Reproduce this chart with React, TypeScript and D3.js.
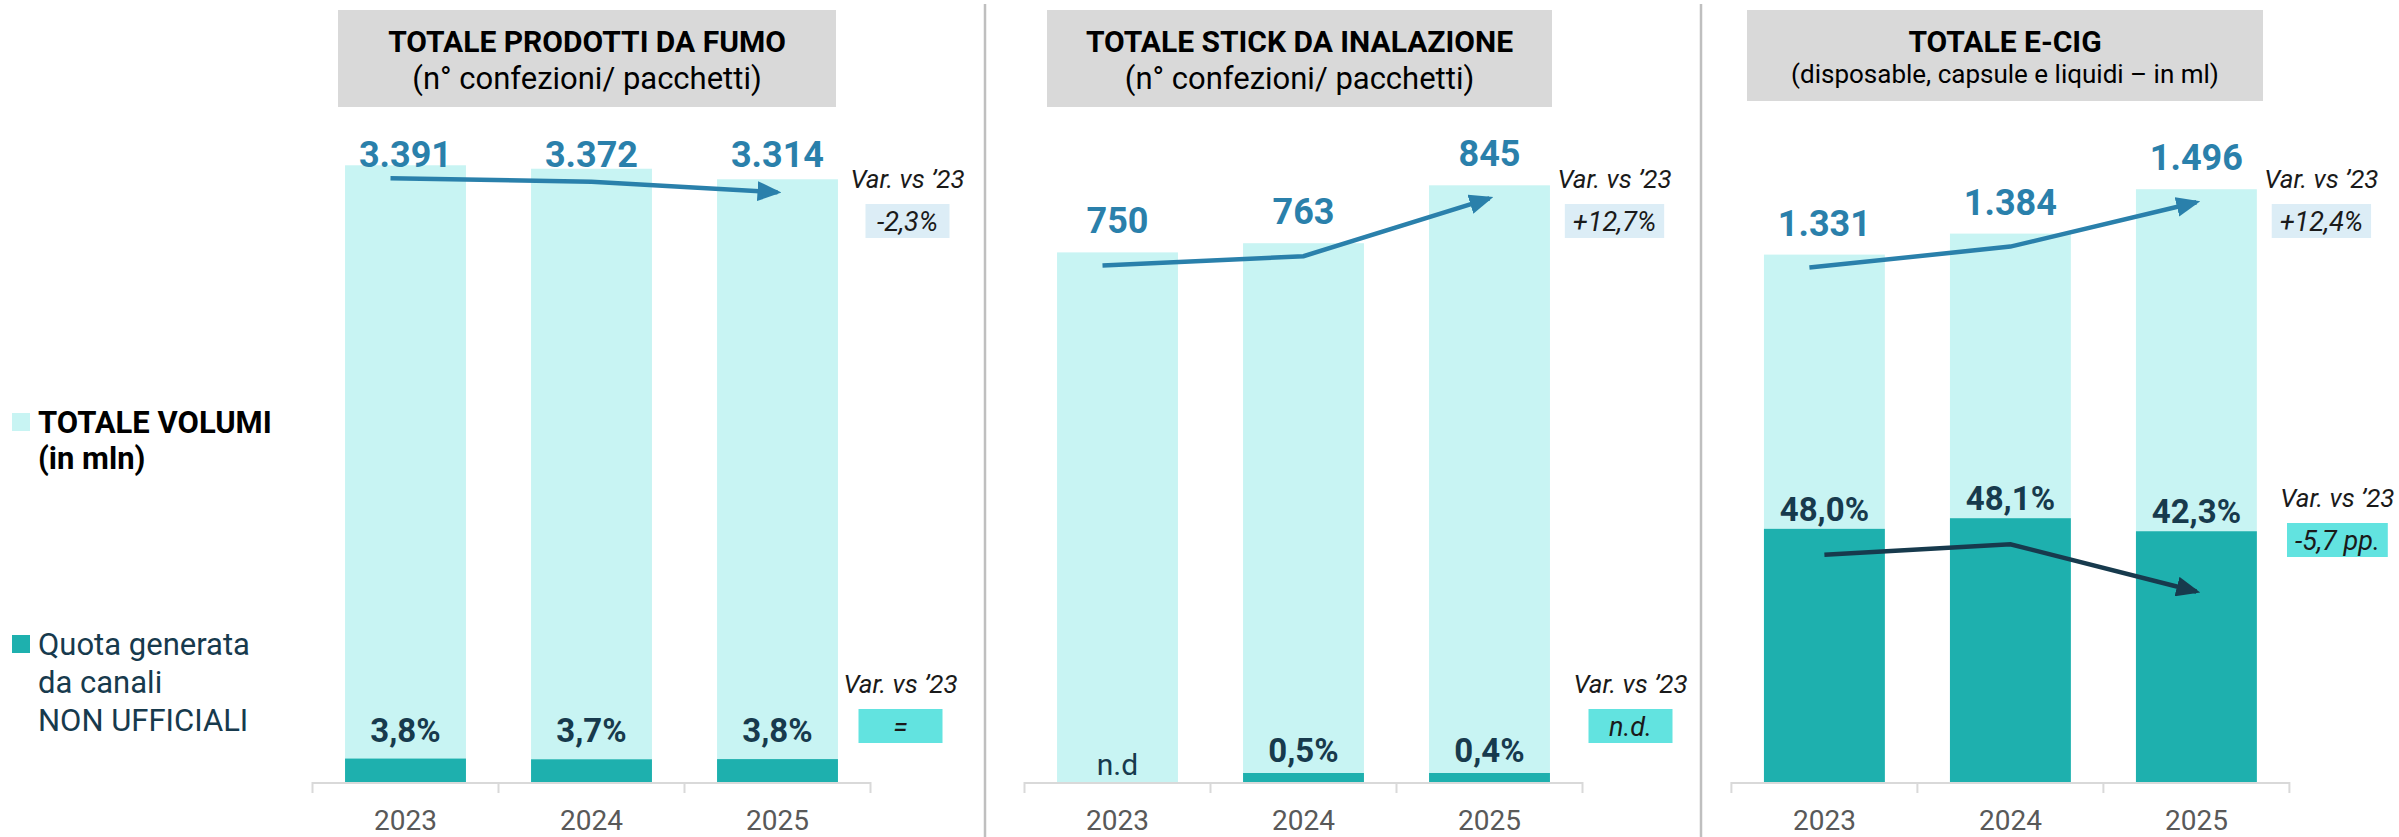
import * as d3 from "d3";
import { useEffect, useRef } from "react";

const years = ["2023", "2024", "2025"];

const panelTitles = ["TOTALE PRODOTTI DA FUMO", "TOTALE STICK DA INALAZIONE", "TOTALE E-CIG"];
const panelSubtitles = [
    "(n° confezioni/ pacchetti)",
    "(n° confezioni/ pacchetti)",
    "(disposable, capsule e liquidi – in ml)",
];

// volumi totali (in mln)
const fumoTotals = [3391, 3372, 3314];
const stickTotals = [750, 763, 845];
const ecigTotals = [1331, 1384, 1496];

// quota canali non ufficiali (%)
const fumoShare: (number | null)[] = [3.8, 3.7, 3.8];
const stickShare: (number | null)[] = [null, 0.5, 0.4];
const ecigShare: (number | null)[] = [48.0, 48.1, 42.3];

const varTotals = ["-2,3%", "+12,7%", "+12,4%"];
const varShares = ["=", "n.d.", "-5,7 pp."];

const W = 2399;
const H = 837;
const FONT = "Roboto, 'Noto Sans', sans-serif";

const LIGHT = "#c8f4f3";
const DARK = "#1eb0ae";
const BLUE = "#2a80ab";
const NAVY = "#173a4d";
const BOX_LIGHT = "#dcedf6";
const BOX_TURQ = "#62e3e0";

// layout per pannello
const layout = [
    { x0: 312.5, yMax: 3475, box: [338, 836, 107], fixedLabel: true, pctDy: -17, varTopDx: 37, varBot: { dx: 30, y: 693 } },
    { x0: 1024.5, yMax: 895, box: [1047, 1552, 107], fixedLabel: false, pctDy: -11, varTopDx: 32, varBot: { dx: 48, y: 693 } },
    { x0: 1731.4, yMax: 1595, box: [1747, 2263, 101], fixedLabel: false, pctDy: -8, varTopDx: 32, varBot: { dx: 48, y: 507 } },
];

const locale = d3.formatLocale({ decimal: ",", thousands: ".", grouping: [3], currency: ["€", ""] });
const fmtInt = locale.format(",d");
const fmtPct = locale.format(".1f");

export default function App() {
    const svgRef = useRef<SVGSVGElement | null>(null);

    useEffect(() => {
        const svg = d3.select(svgRef.current);
        svg.selectAll("*").remove();
        svg.attr("viewBox", `0 0 ${W} ${H}`);

        svg.append("rect").attr("width", W).attr("height", H).attr("fill", "#fff");

        const defs = svg.append("defs");
        [["arrBlue", BLUE], ["arrNavy", NAVY]].forEach(([id, c]) => {
            defs.append("marker")
                .attr("id", id)
                .attr("markerUnits", "userSpaceOnUse")
                .attr("viewBox", "0 0 24 20")
                .attr("markerWidth", 24)
                .attr("markerHeight", 20)
                .attr("refX", 20)
                .attr("refY", 10)
                .attr("orient", "auto")
                .append("path")
                .attr("d", "M0,0 L24,10 L0,20 Z")
                .attr("fill", c);
        });

        const baseY = 782;
        const plotH = 632;
        const totals = [fumoTotals, stickTotals, ecigTotals];
        const shares = [fumoShare, stickShare, ecigShare];

        // divisori
        [985, 1701].forEach((x) => {
            svg.append("line")
                .attr("x1", x).attr("x2", x)
                .attr("y1", 4).attr("y2", H)
                .attr("stroke", "#bfbfbf").attr("stroke-width", 2.5);
        });

        totals.forEach((vals, p) => {
            const L = layout[p];
            const g = svg.append("g");
            const x = d3.scaleBand()
                .domain(years)
                .range([L.x0, L.x0 + 558])
                .paddingInner(0.35)
                .paddingOuter(0.175);
            const y = d3.scaleLinear().domain([0, L.yMax]).range([baseY, baseY - plotH]);
            const cx = (d: string) => x(d)! + x.bandwidth() / 2;
            const axisEnd = L.x0 + 558;

            // box titolo
            const [bx0, bx1, by1] = L.box;
            g.append("rect")
                .attr("x", bx0).attr("y", 10)
                .attr("width", bx1 - bx0).attr("height", by1 - 10)
                .attr("fill", "#d9d9d9");
            const tcx = (bx0 + bx1) / 2;
            g.append("text")
                .attr("x", tcx).attr("y", 52)
                .attr("text-anchor", "middle")
                .attr("font-family", FONT).attr("font-weight", 700)
                .attr("font-size", 30).attr("fill", "#000")
                .text(panelTitles[p]);
            g.append("text")
                .attr("x", tcx).attr("y", p === 2 ? 83 : 89)
                .attr("text-anchor", "middle")
                .attr("font-family", FONT)
                .attr("font-size", p === 2 ? 26 : 31).attr("fill", "#000")
                .text(panelSubtitles[p]);

            // barre totali
            g.selectAll("rect.tot")
                .data(vals)
                .enter()
                .append("rect")
                .attr("class", "tot")
                .attr("x", (_, i) => x(years[i])!)
                .attr("width", x.bandwidth())
                .attr("y", (d) => y(d))
                .attr("height", (d) => baseY - y(d))
                .attr("fill", LIGHT);

            // barre quota non ufficiale (altezza minima per renderle visibili)
            const sh = shares[p];
            const darkTop = (i: number) => {
                const s = sh[i];
                if (s == null) return baseY;
                const h = Math.max(baseY - y((vals[i] * s) / 100), 9);
                return baseY - h;
            };
            sh.forEach((s, i) => {
                if (s == null) return;
                g.append("rect")
                    .attr("x", x(years[i])!)
                    .attr("width", x.bandwidth())
                    .attr("y", darkTop(i))
                    .attr("height", baseY - darkTop(i))
                    .attr("fill", DARK);
            });

            // asse
            g.append("line")
                .attr("x1", L.x0).attr("x2", axisEnd)
                .attr("y1", baseY + 1).attr("y2", baseY + 1)
                .attr("stroke", "#d9d9d9").attr("stroke-width", 2);
            const step = x.step();
            d3.range(4).forEach((k) => {
                const tx = L.x0 + k * step;
                g.append("line")
                    .attr("x1", tx).attr("x2", tx)
                    .attr("y1", baseY).attr("y2", baseY + 11)
                    .attr("stroke", "#d9d9d9").attr("stroke-width", 2);
            });
            years.forEach((yr) => {
                g.append("text")
                    .attr("x", cx(yr)).attr("y", 830)
                    .attr("text-anchor", "middle")
                    .attr("font-family", FONT).attr("font-size", 28)
                    .attr("fill", "#595959")
                    .text(yr);
            });

            // etichette valori totali
            vals.forEach((v, i) => {
                g.append("text")
                    .attr("x", cx(years[i]))
                    .attr("y", L.fixedLabel ? y(d3.max(vals)!) + 2 : y(v) - 19)
                    .attr("text-anchor", "middle")
                    .attr("font-family", FONT).attr("font-weight", 700)
                    .attr("font-size", 36).attr("fill", BLUE)
                    .text(fmtInt(v));
            });

            // etichette quota
            sh.forEach((s, i) => {
                const t = g.append("text")
                    .attr("x", cx(years[i]))
                    .attr("text-anchor", "middle")
                    .attr("font-family", FONT)
                    .attr("fill", NAVY);
                if (s == null) {
                    t.attr("y", baseY - 7).attr("font-size", 30).text("n.d");
                } else {
                    t.attr("y", darkTop(i) + L.pctDy)
                        .attr("font-weight", 700).attr("font-size", 33)
                        .text(fmtPct(s) + "%");
                }
            });

            // freccia trend totali
            const line = d3.line<[number, number]>();
            const pts: [number, number][] = vals.map((v, i) => [cx(years[i]) + (i === 0 ? -15 : 0), y(v) + 13]);
            g.append("path")
                .attr("d", line(pts))
                .attr("fill", "none")
                .attr("stroke", BLUE).attr("stroke-width", 4.5)
                .attr("marker-end", "url(#arrBlue)");

            // freccia trend quota (solo e-cig): la punta scende in base alla variazione in pp
            if (p === 2) {
                const last = sh.length - 1;
                const drop = ((sh[0] as number) - (sh[last] as number)) * 6;
                const sp: [number, number][] = sh.map((_, i) => [
                    cx(years[i]),
                    darkTop(i) + 26 + (i === last ? drop : 0),
                ]);
                g.append("path")
                    .attr("d", line(sp))
                    .attr("fill", "none")
                    .attr("stroke", NAVY).attr("stroke-width", 4.5)
                    .attr("marker-end", "url(#arrNavy)");
            }

            // box variazione
            const varBox = (xc: number, ty: number, label: string, fill: string) => {
                g.append("text")
                    .attr("x", xc).attr("y", ty)
                    .attr("text-anchor", "middle")
                    .attr("font-family", FONT).attr("font-style", "italic")
                    .attr("font-size", 26).attr("fill", "#1a1a1a")
                    .text("Var. vs ’23");
                const t = g.append("text")
                    .attr("x", xc).attr("y", ty + 43)
                    .attr("text-anchor", "middle")
                    .attr("font-family", FONT).attr("font-style", "italic")
                    .attr("font-size", 27).attr("fill", "#1a1a1a")
                    .text(label);
                const bw = Math.max(84, (t.node() as SVGTextElement).getComputedTextLength() + 16);
                g.insert("rect", () => t.node() as Element)
                    .attr("x", xc - bw / 2).attr("y", ty + 16)
                    .attr("width", bw).attr("height", 34)
                    .attr("fill", fill);
            };
            varBox(axisEnd + L.varTopDx, 188, varTotals[p], BOX_LIGHT);
            varBox(axisEnd + L.varBot.dx, L.varBot.y, varShares[p], BOX_TURQ);
        });

        // legenda
        const lg = svg.append("g");
        lg.append("rect").attr("x", 12).attr("y", 413).attr("width", 18).attr("height", 18).attr("fill", LIGHT);
        lg.append("text")
            .attr("x", 38).attr("y", 433)
            .attr("font-family", FONT).attr("font-weight", 700)
            .attr("font-size", 31).attr("fill", "#000")
            .text("TOTALE VOLUMI");
        lg.append("text")
            .attr("x", 38).attr("y", 469)
            .attr("font-family", FONT).attr("font-weight", 700)
            .attr("font-size", 31).attr("fill", "#000")
            .text("(in mln)");
        lg.append("rect").attr("x", 12).attr("y", 635).attr("width", 18).attr("height", 18).attr("fill", DARK);
        ["Quota generata", "da canali", "NON UFFICIALI"].forEach((s, i) => {
            lg.append("text")
                .attr("x", 38).attr("y", 655 + i * 38)
                .attr("font-family", FONT)
                .attr("font-size", 31).attr("fill", NAVY)
                .text(s);
        });
    }, []);

    return (
        <svg
            ref={svgRef}
            width={W}
            height={H}
            style={{ position: "absolute", left: 0, top: 0, display: "block" }}
        ></svg>
    );
}
